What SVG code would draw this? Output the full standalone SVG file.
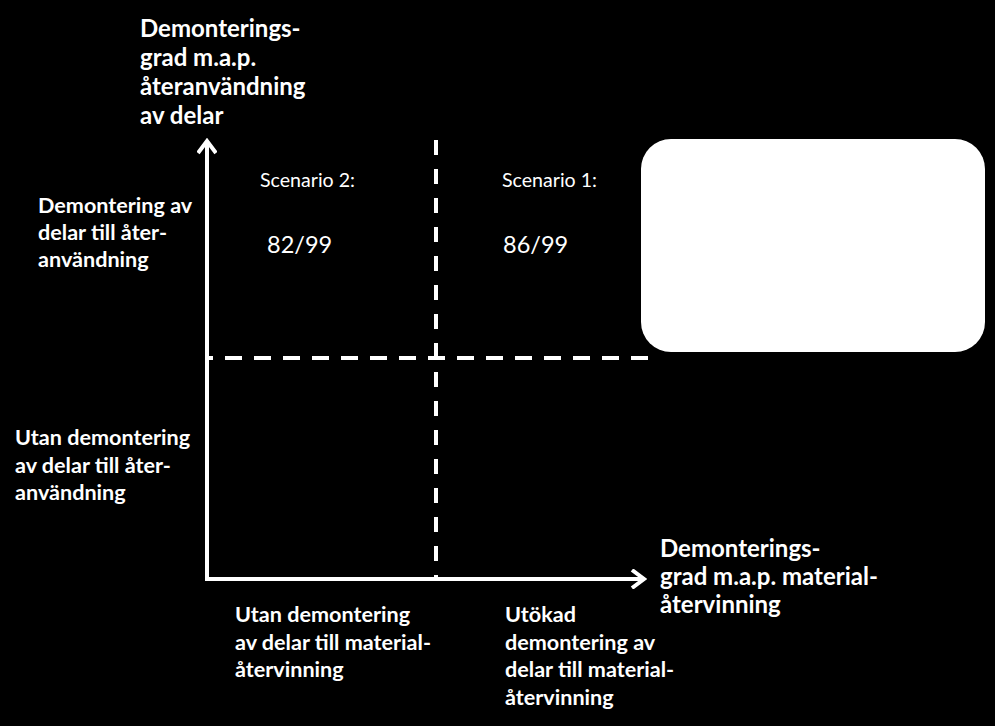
<svg xmlns="http://www.w3.org/2000/svg" width="995" height="726" viewBox="0 0 995 726">
<defs>
<style>
.t{font-family:Lato,"Open Sans","Liberation Sans",sans-serif;fill:#fff}
.b{font-weight:bold}
.h{font-size:24px}
.l{font-size:21.6px}
.s{font-size:19.6px}
.n{font-size:23.5px}
.ax{stroke:#fff;stroke-width:4;fill:none}
.ds{stroke:#fff;stroke-width:4;fill:none}
</style>
<marker id="arr" viewBox="0 0 20 20" refX="17" refY="10" markerWidth="20" markerHeight="20" markerUnits="userSpaceOnUse" orient="auto">
<path d="M5 1 L17 10 L5 19" stroke="#fff" stroke-width="4" fill="none"/>
</marker>
</defs>
<rect x="0" y="0" width="995" height="726" fill="#000"/>
<g id="connectors">
<line class="ax" x1="207" y1="581" x2="207" y2="141" marker-end="url(#arr)"/>
<line class="ax" x1="205" y1="579" x2="644" y2="579" marker-end="url(#arr)"/>
<line class="ds" x1="436" y1="140" x2="436" y2="581" stroke-dasharray="15 14"/>
<line class="ds" x1="208" y1="358" x2="648" y2="358" stroke-dasharray="17 12" stroke-dashoffset="12"/>
</g>
<g id="box">
<rect x="641" y="139" width="344" height="213" rx="30" ry="30" fill="#fff"/>
</g>
<g id="y-axis-title" class="t b h">
<text x="140" y="37">Demonterings-</text>
<text x="140" y="66">grad m.a.p.</text>
<text x="140" y="95">återanvändning</text>
<text x="140" y="124">av delar</text>
</g>
<g id="x-axis-title" class="t b h">
<text x="660" y="557">Demonterings-</text>
<text x="660" y="585">grad m.a.p. material-</text>
<text x="660" y="613">återvinning</text>
</g>
<g id="y-high" class="t b l">
<text x="38" y="213">Demontering av</text>
<text x="38" y="240">delar till åter-</text>
<text x="38" y="267">användning</text>
</g>
<g id="y-low" class="t b l">
<text x="15" y="445">Utan demontering</text>
<text x="15" y="473">av delar till åter-</text>
<text x="15" y="500">användning</text>
</g>
<g id="x-low" class="t b l">
<text x="235" y="622">Utan demontering</text>
<text x="235" y="650">av delar till material-</text>
<text x="235" y="677">återvinning</text>
</g>
<g id="x-high" class="t b l">
<text x="505" y="622">Utökad</text>
<text x="505" y="650">demontering av</text>
<text x="505" y="677">delar till material-</text>
<text x="505" y="705">återvinning</text>
</g>
<g id="scenario2" class="t">
<text class="s" x="260" y="187">Scenario 2:</text>
<text class="n" x="267" y="253">82/99</text>
</g>
<g id="scenario1" class="t">
<text class="s" x="502" y="187">Scenario 1:</text>
<text class="n" x="503" y="253">86/99</text>
</g>
</svg>
